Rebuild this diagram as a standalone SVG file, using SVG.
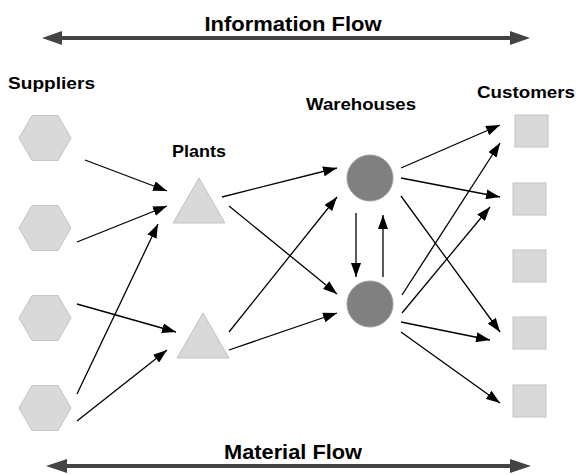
<svg xmlns="http://www.w3.org/2000/svg" width="576" height="475" viewBox="0 0 576 475">
  <style>
    .label { font-family: "Liberation Sans", Arial, sans-serif; font-weight: bold; fill: #000; }
    .flow { fill: #444; }
    .hex, .tri, .sq { fill: #d9d9d9; stroke: #c4c4c4; stroke-width: 1; }
    .wh { fill: #808080; stroke: #9a9a9a; stroke-width: 1; }
    .link { stroke: #000; stroke-width: 1.3; fill: none; marker-end: url(#head); }
  </style>
  <defs>
    <marker id="head" viewBox="0 0 14 10" markerWidth="14" markerHeight="10" refX="14" refY="5" orient="auto" markerUnits="userSpaceOnUse">
      <path d="M0,0 L14,5 L0,10 z" fill="#000"/>
    </marker>
    <polygon id="hexagon" points="-26,0 -13,-22.5 13,-22.5 26,0 13,22.5 -13,22.5"/>
  </defs>

  <rect width="576" height="475" fill="#fff"/>

  <!-- flow banners -->
  <g id="information-flow">
    <text class="label" x="293" y="31" font-size="20" text-anchor="middle" textLength="177" lengthAdjust="spacingAndGlyphs">Information Flow</text>
    <rect class="flow" x="60" y="36" width="452" height="4"/>
    <polygon class="flow" points="42,38 62,31 62,45"/>
    <polygon class="flow" points="530,38 510,31 510,45"/>
  </g>
  <g id="material-flow">
    <text class="label" x="293" y="459" font-size="20" text-anchor="middle" textLength="138" lengthAdjust="spacingAndGlyphs">Material Flow</text>
    <rect class="flow" x="65" y="464" width="447" height="4"/>
    <polygon class="flow" points="46,466 67,459 67,473"/>
    <polygon class="flow" points="531,466 510,459 510,473"/>
  </g>

  <!-- column titles -->
  <text class="label" x="8" y="89" font-size="17" textLength="87" lengthAdjust="spacingAndGlyphs">Suppliers</text>
  <text class="label" x="199" y="157" font-size="17" text-anchor="middle" textLength="54" lengthAdjust="spacingAndGlyphs">Plants</text>
  <text class="label" x="361" y="110" font-size="17" text-anchor="middle" textLength="110" lengthAdjust="spacingAndGlyphs">Warehouses</text>
  <text class="label" x="477" y="98" font-size="17" textLength="98" lengthAdjust="spacingAndGlyphs">Customers</text>

  <!-- suppliers -->
  <g id="supplier-1"><use href="#hexagon" class="hex" x="45" y="138"/></g>
  <g id="supplier-2"><use href="#hexagon" class="hex" x="45" y="228"/></g>
  <g id="supplier-3"><use href="#hexagon" class="hex" x="45" y="318"/></g>
  <g id="supplier-4"><use href="#hexagon" class="hex" x="45" y="408"/></g>

  <!-- plants -->
  <g id="plant-1"><polygon class="tri" points="199,178 225,223 173,223"/></g>
  <g id="plant-2"><polygon class="tri" points="203,313 229,358 177,358"/></g>

  <!-- warehouses -->
  <g id="warehouse-1"><circle class="wh" cx="370" cy="178" r="23"/></g>
  <g id="warehouse-2"><circle class="wh" cx="370" cy="304" r="23"/></g>

  <!-- customers -->
  <g id="customer-1"><rect class="sq" x="515" y="115" width="33" height="32"/></g>
  <g id="customer-2"><rect class="sq" x="513" y="183" width="33" height="32"/></g>
  <g id="customer-3"><rect class="sq" x="513" y="250" width="33" height="32"/></g>
  <g id="customer-4"><rect class="sq" x="513" y="317" width="33" height="32"/></g>
  <g id="customer-5"><rect class="sq" x="513" y="385" width="33" height="32"/></g>

  <!-- connectors -->
  <g id="connectors">
    <line class="link" x1="85" y1="160" x2="167" y2="191"/>
    <line class="link" x1="77" y1="242" x2="167" y2="206"/>
    <line class="link" x1="77" y1="394" x2="158" y2="224"/>
    <line class="link" x1="77" y1="304" x2="176" y2="332"/>
    <line class="link" x1="77" y1="421" x2="167" y2="350"/>

    <line class="link" x1="222" y1="197" x2="337" y2="168"/>
    <line class="link" x1="229" y1="206" x2="337" y2="294"/>
    <line class="link" x1="229" y1="332" x2="337" y2="197"/>
    <line class="link" x1="229" y1="350" x2="337" y2="313"/>

    <line class="link" x1="356" y1="213" x2="356" y2="277"/>
    <line class="link" x1="383" y1="277" x2="383" y2="215"/>

    <line class="link" x1="401" y1="168" x2="500" y2="125"/>
    <line class="link" x1="401" y1="178" x2="500" y2="197"/>
    <line class="link" x1="401" y1="196" x2="500" y2="332"/>
    <line class="link" x1="402" y1="295" x2="500" y2="143"/>
    <line class="link" x1="402" y1="313" x2="490" y2="207"/>
    <line class="link" x1="401" y1="322" x2="490" y2="340"/>
    <line class="link" x1="401" y1="332" x2="500" y2="403"/>
  </g>
</svg>
